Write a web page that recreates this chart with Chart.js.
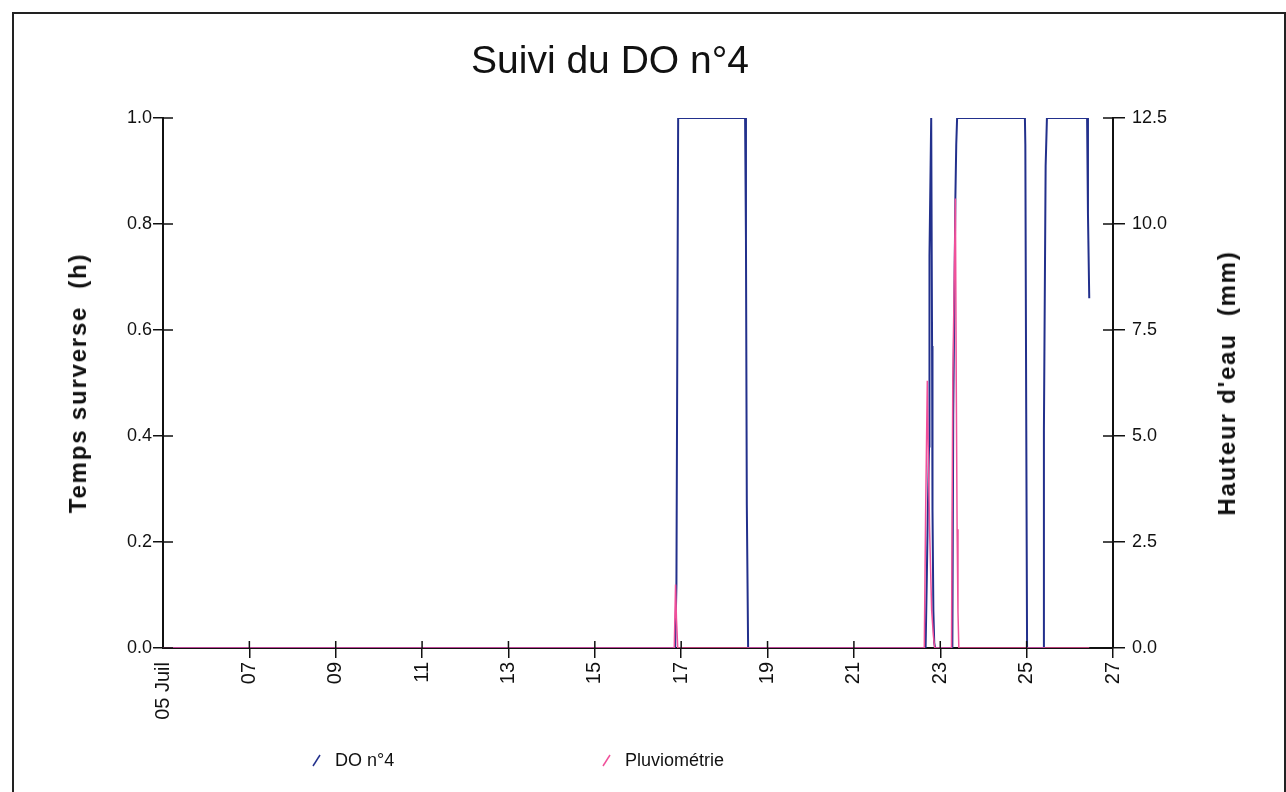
<!DOCTYPE html>
<html lang="fr">
<head>
<meta charset="utf-8">
<title>Suivi du DO n°4</title>
<script src="https://cdn.jsdelivr.net/npm/chart.js@4.4.1/dist/chart.umd.min.js"></script>
<style>
    html, body {
        margin: 0;
        padding: 0;
        background: #fff;
        width: 1286px;
        height: 792px;
        overflow: hidden;
        font-family: "Liberation Sans", Arial, sans-serif;
    }
    .frame {
        position: absolute;
        left: 12px;
        top: 12px;
        width: 1270px;
        height: 900px;
        border: 2px solid #222;
    }
    #chart {
        position: absolute;
        left: 0;
        top: 0;
    }
    .title {
        position: absolute;
        left: 0;
        width: 1220px;
        top: 40px;
        text-align: center;
        font-size: 39px;
        line-height: 39px;
        color: #111;
    }
    .axis-title {
        position: absolute;
        transform: translate(-50%, -50%) rotate(-90deg);
        white-space: nowrap;
        font-weight: bold;
        font-size: 24px;
        letter-spacing: 1.8px;
        color: #111;
    }
    .legend-item {
        position: absolute;
        top: 750px;
        font-size: 18px;
        color: #111;
        white-space: nowrap;
    }
    .legend-item svg {
        vertical-align: -1px;
        margin-right: 13px;
    }
</style>
</head>
<body>
<div class="frame"></div>
<canvas id="chart" width="1286" height="792"></canvas>
<div class="title">Suivi du DO n°4</div>
<div class="axis-title" style="left:78px; top:383px;">Temps surverse&nbsp; (h)</div>
<div class="axis-title" style="left:1227px; top:383px;">Hauteur d'eau&nbsp; (mm)</div>
<div class="legend-item" style="left:312px;"><svg width="10" height="13"><line x1="1" y1="12" x2="8" y2="1" stroke="#22308c" stroke-width="1.5"/></svg>DO n°4</div>
<div class="legend-item" style="left:602px;"><svg width="10" height="13"><line x1="1" y1="12" x2="8" y2="1" stroke="#f0509a" stroke-width="1.5"/></svg>Pluviométrie</div>
<script>
// jours de juillet (décimaux) et temps de surverse (h)
const doDays = [5, 16.86, 16.89, 16.91, 16.93, 18.48, 18.50, 18.52, 18.55,
    22.66, 22.69, 22.71, 22.74, 22.75, 22.79, 22.81, 22.82, 22.84, 22.86, 22.88,
    23.28, 23.30, 23.35, 23.37, 23.39, 24.96, 24.97, 24.99, 25.01,
    25.38, 25.40, 25.44, 25.47, 26.40, 26.42, 26.45];
const doHours = [0, 0, 0.12, 0.56, 1.0, 1.0, 0.77, 0.27, 0,
    0, 0.14, 0.25, 0.38, 0.74, 1.0, 0.57, 0.26, 0.07, 0.01, 0,
    0, 0.44, 0.85, 0.95, 1.0, 1.0, 0.95, 0.45, 0,
    0, 0.41, 0.91, 1.0, 1.0, 0.82, 0.66];

// pluviométrie (mm)
const pluvioDays = [5, 16.84, 16.87, 16.89, 16.92,
    22.63, 22.66, 22.70, 22.72, 22.75, 22.80, 22.84, 22.87,
    23.26, 23.29, 23.35, 23.37, 23.39, 23.41, 23.43, 26.45];
const pluvioMm = [0, 0, 1.5, 0.7, 0,
    0, 3.1, 6.3, 4.8, 2.9, 0.9, 0.3, 0,
    0, 6.3, 10.6, 6.3, 2.8, 0.85, 0, 0];

const xTicks = [5, 7, 9, 11, 13, 15, 17, 19, 21, 23, 25, 27];
const leftTicks = [0, 0.2, 0.4, 0.6, 0.8, 1.0];
const rightTicks = [0, 2.5, 5.0, 7.5, 10.0, 12.5];

const fontFamily = '"Liberation Sans", Arial, sans-serif';
const axisColor = '#111';

// petites graduations à l'intérieur du graphique
const innerTicks = {
    id: 'innerTicks',
    afterDraw(chart) {
        const { ctx, chartArea, scales } = chart;
        ctx.save();
        ctx.strokeStyle = axisColor;
        ctx.lineWidth = 1.5;
        ctx.beginPath();
        scales.y.ticks.forEach((t) => {
            const py = scales.y.getPixelForValue(t.value);
            ctx.moveTo(chartArea.left, py);
            ctx.lineTo(chartArea.left + 10, py);
        });
        scales.y2.ticks.forEach((t) => {
            const py = scales.y2.getPixelForValue(t.value);
            ctx.moveTo(chartArea.right - 10, py);
            ctx.lineTo(chartArea.right, py);
        });
        scales.x.ticks.forEach((t) => {
            if (t.value === 5) return;
            const px = scales.x.getPixelForValue(t.value);
            ctx.moveTo(px, chartArea.bottom);
            ctx.lineTo(px, chartArea.bottom - 7);
        });
        ctx.stroke();
        ctx.restore();
    }
};

new Chart(document.getElementById('chart'), {
    type: 'line',
    data: {
        datasets: [{
            label: 'Pluviométrie',
            data: pluvioDays.map((d, i) => ({ x: d, y: pluvioMm[i] })),
            yAxisID: 'y2',
            borderColor: '#f0509a',
            borderWidth: 1.5,
            pointRadius: 0,
            tension: 0,
            order: 0
        }, {
            label: 'DO n°4',
            data: doDays.map((d, i) => ({ x: d, y: doHours[i] })),
            yAxisID: 'y',
            borderColor: '#22308c',
            borderWidth: 2,
            pointRadius: 0,
            tension: 0,
            order: 1
        }]
    },
    options: {
        responsive: false,
        animation: false,
        events: [],
        layout: { padding: { top: 118, left: 0, right: 0, bottom: 0 } },
        plugins: {
            legend: { display: false },
            title: { display: false },
            tooltip: { enabled: false }
        },
        scales: {
            x: {
                type: 'linear',
                min: 5,
                max: 27,
                z: 1,
                afterFit: (s) => { s.height = 144; },
                afterBuildTicks: (s) => { s.ticks = xTicks.map((v) => ({ value: v })); },
                border: { display: true, color: axisColor, width: 2 },
                grid: {
                    drawOnChartArea: false,
                    drawTicks: true,
                    tickLength: 10,
                    lineWidth: 1.5,
                    color: (c) => (c.tick && c.tick.value === 5 ? 'rgba(0,0,0,0)' : axisColor)
                },
                ticks: {
                    minRotation: 90,
                    maxRotation: 90,
                    autoSkip: false,
                    padding: 4,
                    color: axisColor,
                    font: { family: fontFamily, size: 20 },
                    callback: (v) => (v === 5 ? '05 Juil' : String(v).padStart(2, '0'))
                }
            },
            y: {
                position: 'left',
                min: 0,
                max: 1,
                z: 1,
                afterFit: (s) => { s.width = 163; },
                afterBuildTicks: (s) => { s.ticks = leftTicks.map((v) => ({ value: v })); },
                border: { display: true, color: axisColor, width: 2 },
                grid: { drawOnChartArea: false, drawTicks: true, tickLength: 10, lineWidth: 1.5, color: axisColor },
                ticks: {
                    padding: 1,
                    color: axisColor,
                    font: { family: fontFamily, size: 18 },
                    callback: (v) => Number(v).toFixed(1)
                }
            },
            y2: {
                position: 'right',
                min: 0,
                max: 12.5,
                z: 1,
                afterFit: (s) => { s.width = 173; },
                afterBuildTicks: (s) => { s.ticks = rightTicks.map((v) => ({ value: v })); },
                border: { display: true, color: axisColor, width: 2 },
                grid: { drawOnChartArea: false, drawTicks: true, tickLength: 12, lineWidth: 1.5, color: axisColor },
                ticks: {
                    padding: 7,
                    color: axisColor,
                    font: { family: fontFamily, size: 18 },
                    callback: (v) => Number(v).toFixed(1)
                }
            }
        }
    },
    plugins: [innerTicks]
});
</script>
</body>
</html>
